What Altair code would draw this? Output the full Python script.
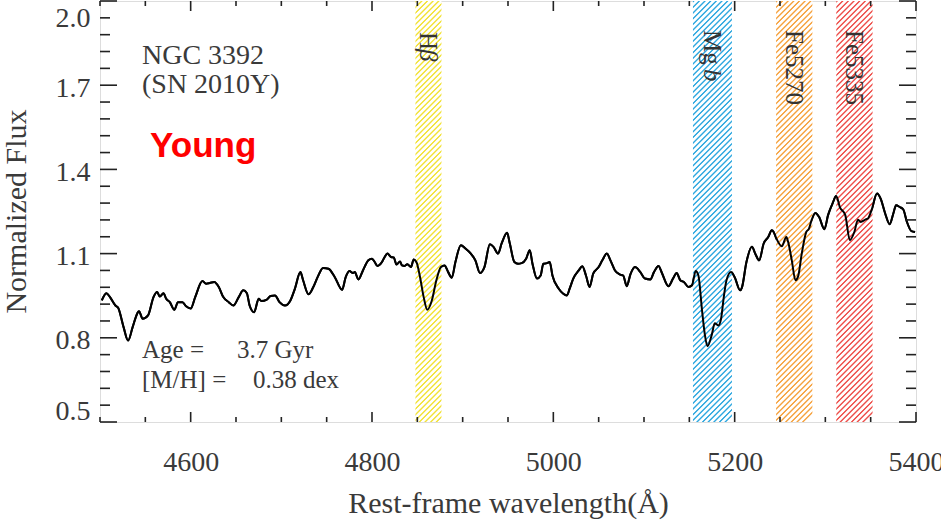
import math
import altair as alt
import pandas as pd

# ---------------- data ----------------
wavelength = [4502, 4507, 4511, 4517, 4520, 4526, 4531, 4536, 4541, 4543, 4547, 4553, 4559, 4563, 4566,
              4570, 4573, 4577, 4582, 4586, 4591, 4595, 4600, 4605, 4613, 4617, 4621, 4626, 4631, 4636,
              4642, 4647, 4653, 4658, 4662, 4665, 4670, 4675, 4678, 4684, 4688, 4693, 4698, 4704, 4710,
              4715, 4721, 4724, 4730, 4735, 4740, 4746, 4752, 4759, 4767, 4771, 4775, 4779, 4781, 4785,
              4790, 4796, 4800, 4803, 4806, 4811, 4814, 4817, 4821, 4824, 4827, 4831, 4833, 4836, 4839,
              4843, 4846, 4849, 4853, 4857, 4861, 4866, 4871, 4876, 4880, 4884, 4888, 4892, 4898, 4903,
              4909, 4914, 4919, 4924, 4930, 4934, 4939, 4943, 4949, 4952, 4957, 4961, 4965, 4970, 4974,
              4977, 4982, 4986, 4989, 4993, 4996, 4999, 5006, 5011, 5015, 5018, 5022, 5028, 5032, 5036,
              5040, 5044, 5050, 5054, 5059, 5063, 5068, 5073, 5077, 5081, 5085, 5090, 5096, 5101, 5107,
              5111, 5116, 5120, 5127, 5132, 5136, 5140, 5144, 5149, 5153, 5157, 5160, 5164, 5167, 5170,
              5175, 5178, 5182, 5185, 5188, 5191, 5196, 5200, 5206, 5208, 5213, 5219, 5223, 5227, 5232,
              5237, 5241, 5243, 5246, 5252, 5257, 5259, 5263, 5267, 5270, 5274, 5279, 5282, 5285, 5289,
              5293, 5299, 5303, 5308, 5312, 5316, 5322, 5327, 5332, 5336, 5339, 5344, 5347, 5351, 5357,
              5361, 5366, 5371, 5375, 5378, 5382, 5386, 5390, 5395, 5399]
flux = [0.933, 0.959, 0.945, 0.915, 0.907, 0.838, 0.790, 0.838, 0.886, 0.895, 0.868, 0.880, 0.945, 0.963, 0.947,
        0.959, 0.939, 0.927, 0.900, 0.927, 0.927, 0.912, 0.904, 0.945, 1.002, 0.993, 0.995, 0.999, 0.981, 0.945,
        0.927, 0.915, 0.945, 0.969, 0.959, 0.915, 0.891, 0.939, 0.931, 0.936, 0.949, 0.951, 0.927, 0.915, 0.933,
        0.975, 1.034, 1.005, 0.955, 0.979, 1.016, 1.049, 1.046, 1.016, 0.971, 1.016, 1.038, 1.031, 1.034, 1.008,
        1.040, 1.076, 1.082, 1.070, 1.056, 1.070, 1.088, 1.100, 1.088, 1.086, 1.061, 1.072, 1.058, 1.056, 1.062,
        1.052, 1.079, 1.070, 1.016, 0.945, 0.900, 0.933, 1.005, 1.052, 1.058, 1.034, 1.014, 1.070, 1.130, 1.118,
        1.100, 1.076, 1.031, 1.052, 1.133, 1.124, 1.100, 1.136, 1.174, 1.136, 1.070, 1.064, 1.066, 1.082, 1.112,
        1.064, 1.011, 1.022, 1.064, 1.066, 1.070, 1.022, 0.975, 0.957, 0.951, 0.975, 1.011, 1.040, 1.055, 1.022,
        0.981, 1.029, 1.052, 1.076, 1.100, 1.076, 1.040, 1.026, 1.022, 0.984, 1.026, 1.052, 1.034, 1.011, 1.008,
        1.034, 1.056, 1.029, 0.984, 1.011, 1.031, 1.005, 0.999, 0.981, 0.987, 1.038, 1.022, 0.898, 0.814, 0.770,
        0.814, 0.852, 0.844, 0.868, 0.945, 1.005, 1.034, 1.016, 0.969, 0.979, 1.070, 1.124, 1.098, 1.076, 1.136,
        1.159, 1.183, 1.177, 1.154, 1.126, 1.159, 1.141, 1.076, 1.005, 1.019, 1.100, 1.177, 1.189, 1.221, 1.245,
        1.231, 1.187, 1.237, 1.279, 1.305, 1.266, 1.237, 1.148, 1.177, 1.221, 1.213, 1.221, 1.225, 1.255, 1.314,
        1.296, 1.243, 1.205, 1.243, 1.272, 1.266, 1.257, 1.213, 1.180, 1.177]

band_names = ["Hβ", "Mg b", "Fe5270", "Fe5335"]
band_start = [4847.9, 5154.0, 5245.7, 5312.1]
band_end = [4876.6, 5197.0, 5285.7, 5352.1]
band_colors = ["#f2e237", "#2fa8e0", "#f6a23e", "#ee4f4a"]

x_major = [4600, 4800, 5000, 5200, 5400]
x_minor = [4500, 4550, 4650, 4700, 4750, 4850, 4900, 4950, 5050, 5100, 5150, 5250, 5300, 5350]
y_major = [0.5, 0.8, 1.1, 1.4, 1.7, 2.0]
y_minor = [0.56, 0.62, 0.68, 0.74, 0.86, 0.92, 0.98, 1.04, 1.16, 1.22, 1.28, 1.34,
           1.46, 1.52, 1.58, 1.64, 1.76, 1.82, 1.88, 1.94]

# ---------------- layout ----------------
W, H = 816, 421
X_DOM = [4500, 5400]
Y_DOM = [0.5, 2.0]
SERIF = "Liberation Serif"
TXT = "#3a3a3a"
TICK = "#222222"

xs = alt.Scale(domain=X_DOM, nice=False, zero=False)
ys = alt.Scale(domain=Y_DOM, nice=False, zero=False)

AX_X = alt.Axis(
    values=x_major, format="d", grid=False, domain=False, ticks=False, tickSize=0,
    labelFont=SERIF, labelFontSize=28, labelColor=TXT, labelBaseline="alphabetic",
    labelPadding=48, labelFlush=False, labelOverlap=False,
    title="Rest-frame wavelength(Å)", titleFont=SERIF, titleFontSize=30,
    titleFontWeight="normal", titleColor=TXT, titleBaseline="alphabetic",
    titleY=90, titleX=W / 2, titleAlign="center")
AX_Y = alt.Axis(
    values=y_major, format=".1f", grid=False, domain=False, ticks=False, tickSize=0,
    labelFont=SERIF, labelFontSize=28, labelColor=TXT, labelPadding=10,
    labelOffset=3, labelFlush=True, labelOverlap=False,
    title="Normalized Flux", titleFont=SERIF, titleFontSize=30,
    titleFontWeight="normal", titleColor=TXT, titleAngle=-90,
    titleBaseline="alphabetic", titleAlign="center", titleX=-75, titleY=210)


def X(field):
    return alt.X(field, scale=xs, axis=AX_X)


def Y(field):
    return alt.Y(field, scale=ys, axis=AX_Y)


spec_df = pd.DataFrame({"wl": wavelength, "flux": flux})


def hatch(color, w_px, h_px=H, period=4.0):
    a = w_px / h_px
    k = (1 + a) / (1 + a * a)
    dt = math.sqrt(2) * period / (h_px * (1 + a))
    stops = []
    i = 0
    while (i + 1) * dt <= 1.0:
        o = i * dt
        stops += [alt.GradientStop(color=color, offset=round(o + 0.05 * dt, 6)),
                  alt.GradientStop(color=color, offset=round(o + 0.2 * dt, 6)),
                  alt.GradientStop(color="#ffffff", offset=round(o + 0.4 * dt, 6)),
                  alt.GradientStop(color="#ffffff", offset=round(o + 0.85 * dt, 6))]
        i += 1
    return alt.LinearGradient(gradient="linear", stops=stops, x1=0, y1=0, x2=k * a, y2=k)


layers = []

# spectrum first (carries the axes)
layers.append(
    alt.Chart(spec_df).mark_line(color="black", strokeWidth=2, interpolate="monotone", clip=True).encode(
        x=X("wl:Q"), y=Y("flux:Q"))
)

# hatched index bands
for i, name in enumerate(band_names):
    bdf = pd.DataFrame({"name": [name], "start": [band_start[i]], "end": [band_end[i]]})
    w_px = (band_end[i] - band_start[i]) * W / (X_DOM[1] - X_DOM[0])
    layers.append(
        alt.Chart(bdf).mark_rect(fill=hatch(band_colors[i], w_px), strokeWidth=0).encode(
            x=X("start:Q"), x2="end:Q")
    )

# spectrum again on top of the bands
layers.append(
    alt.Chart(spec_df).mark_line(color="black", strokeWidth=2, interpolate="monotone", clip=True).encode(
        x=X("wl:Q"), y=Y("flux:Q"))
)


# inward ticks on all four sides
def xticks(vals, length):
    d = pd.DataFrame({"wl": vals})
    bottom = alt.Chart(d).mark_rule(color=TICK, strokeWidth=1.6).encode(
        x=X("wl:Q"), y=alt.value(H), y2=alt.value(H - length))
    top = alt.Chart(d).mark_rule(color=TICK, strokeWidth=1.6).encode(
        x=X("wl:Q"), y=alt.value(0), y2=alt.value(length))
    return [bottom, top]


def yticks(vals, length):
    d = pd.DataFrame({"flux": vals})
    left = alt.Chart(d).mark_rule(color=TICK, strokeWidth=1.6).encode(
        y=Y("flux:Q"), x=alt.value(0), x2=alt.value(length))
    right = alt.Chart(d).mark_rule(color=TICK, strokeWidth=1.6).encode(
        y=Y("flux:Q"), x=alt.value(W), x2=alt.value(W - length))
    return [left, right]


layers += xticks(x_major, 10) + xticks(x_minor, 5) + yticks(y_major, 17) + yticks(y_minor, 10)


# band labels (rotated)
def band_label(text, band_i, ypx, italic=False):
    c = (band_start[band_i] + band_end[band_i]) / 2
    d = pd.DataFrame({"t": [text], "wl": [c]})
    return alt.Chart(d).mark_text(
        angle=90, align="left", baseline="middle", font=SERIF, fontSize=25,
        fontStyle="italic" if italic else "normal", color="#333333",
    ).encode(x=X("wl:Q"), y=alt.value(ypx), text="t:N")


layers += [
    band_label("H", 0, 31),
    band_label("β", 0, 48, italic=True),
    band_label("Mg", 1, 29),
    band_label("b", 1, 68, italic=True),
    band_label("Fe5270", 2, 29),
    band_label("Fe5335", 3, 29),
]


# annotations
def note(text, xpx, ypx, font=SERIF, size=25, color=TXT, weight="normal"):
    d = pd.DataFrame({"t": [text]})
    return alt.Chart(d).mark_text(
        align="left", baseline="alphabetic", font=font, fontSize=size, color=color, fontWeight=weight,
    ).encode(x=alt.value(xpx), y=alt.value(ypx), text="t:N")


layers += [
    note("NGC 3392", 42, 63, size=28),
    note("(SN 2010Y)", 42, 92, size=28),
    note("Young", 50, 156, font="Liberation Sans", size=35, color="#ff0000", weight="bold"),
    note("Age =", 42, 357),
    note("3.7 Gyr", 137, 357),
    note("[M/H] =", 42, 387),
    note("0.38 dex", 153, 387),
]

chart = alt.layer(*layers).properties(
    width=W, height=H,
    autosize=alt.AutoSizeParams(type="none"),
    padding={"left": 100, "top": 1, "right": 25, "bottom": 98},
).configure_view(stroke="#1a1a1a", strokeWidth=2).configure(background="white")

chart.save("out.html", embed_options={"renderer": "svg", "actions": False})
